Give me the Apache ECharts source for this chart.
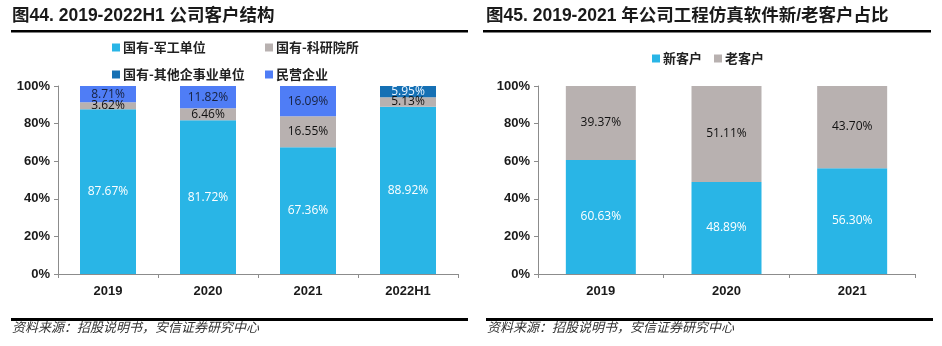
<!DOCTYPE html>
<html>
<head>
<meta charset="utf-8">
<script src="https://cdn.jsdelivr.net/npm/echarts@6/dist/echarts.min.js"></script>
<style>
  html, body { margin: 0; padding: 0; background: #fff; }
  #chart { width: 942px; height: 346px; }
</style>
</head>
<body>
<div id="chart"></div>
<script>
// Left panel: customer structure by ownership type (% of customers)
const structYears = ['2019', '2020', '2021', '2022H1'];
const militaryUnits = [87.67, 81.72, 67.36, 88.92];
const researchInstitutes = [3.62, 6.46, 16.55, 5.13];
const otherStateUnits = [0, 0, 0, 5.95];
const privateFirms = [8.71, 11.82, 16.09, 0];

// Right panel: new vs. returning customers of the simulation software
const clientYears = ['2019', '2020', '2021'];
const newClients = [60.63, 48.89, 56.30];
const oldClients = [39.37, 51.11, 43.70];

const percentTicks = ['0%', '20%', '40%', '60%', '80%', '100%'];

const C_SKY = '#29B5E6';
const C_GREY = '#B8B1B0';
const C_NAVY = '#1570B4';
const C_ROYAL = '#4F7DF6';

const CJK = '"Noto Sans CJK SC", "Noto Sans", sans-serif';
const NUM = '"Open Sans", "Noto Sans", sans-serif';
const AXISF = '"Liberation Sans", Arial, sans-serif';

const chart = echarts.init(document.getElementById('chart'), null, { renderer: 'canvas' });

function pctLabel(color) {
  return {
    show: true,
    position: 'inside',
    color: color,
    fontFamily: NUM,
    fontSize: 12,
    formatter: p => (p.value ? p.value.toFixed(2) + '%' : '')
  };
}

function yAxisCfg(gridIndex) {
  return {
    type: 'value', gridIndex, min: 0, max: 100, interval: 20,
    axisLine: { show: true, lineStyle: { color: '#8c8c8c', width: 1 } },
    axisTick: { show: true, length: 4, lineStyle: { color: '#8c8c8c' } },
    splitLine: { show: false },
    axisLabel: {
      margin: 8, color: '#1a1a1a', fontFamily: AXISF, fontWeight: 'bold', fontSize: 13,
      formatter: v => percentTicks[v / 20]
    }
  };
}

function xAxisCfg(gridIndex, cats) {
  return {
    type: 'category', gridIndex, data: cats,
    axisLine: { show: true, lineStyle: { color: '#8c8c8c', width: 1 } },
    axisTick: { show: true, length: 4, lineStyle: { color: '#8c8c8c' } },
    axisLabel: { margin: 11, color: '#1a1a1a', fontFamily: AXISF, fontWeight: 'bold', fontSize: 13 }
  };
}

function legendItem(name, left, top) {
  return {
    data: [name], left, top, orient: 'horizontal',
    icon: 'rect', itemWidth: 8, itemHeight: 8, itemGap: 4, padding: 0,
    selectedMode: false,
    textStyle: { fontFamily: CJK, fontWeight: 'bold', fontSize: 13, color: '#222', padding: [0, 0, 0, -2] }
  };
}

const rule = (x, y, w, h) => ({ type: 'rect', left: x, top: y, shape: { width: w, height: h }, style: { fill: '#000' } });
const text = (x, y, s, style) => ({ type: 'text', left: x, top: y, style: Object.assign({ text: s }, style) });

const titleStyle = { font: 'bold 17.5px "Liberation Sans", "Noto Sans CJK SC", sans-serif', fill: '#1a1a1a' };
const srcStyle = { font: 'italic 13px ' + CJK, fill: '#333' };

chart.setOption({
  animation: false,
  backgroundColor: '#fff',
  grid: [
    { left: 58, right: 484, top: 86, bottom: 72 },
    { left: 538, right: 27, top: 86, bottom: 72 }
  ],
  legend: [
    legendItem('国有-军工单位', 112, 41),
    legendItem('国有-科研院所', 265, 41),
    legendItem('国有-其他企事业单位', 112, 68),
    legendItem('民营企业', 265, 68),
    {
      data: ['新客户', '老客户'], left: 652, top: 52,
      icon: 'rect', itemWidth: 8, itemHeight: 8, itemGap: 12, padding: 0,
      selectedMode: false,
      textStyle: { fontFamily: CJK, fontWeight: 'bold', fontSize: 13, color: '#222', padding: [0, 0, 0, -2] }
    }
  ],
  xAxis: [xAxisCfg(0, structYears), xAxisCfg(1, clientYears)],
  yAxis: [yAxisCfg(0), yAxisCfg(1)],
  series: [
    { name: '国有-军工单位', type: 'bar', stack: 'a', xAxisIndex: 0, yAxisIndex: 0, barWidth: 56,
      itemStyle: { color: C_SKY }, label: pctLabel('#fff'), data: militaryUnits },
    { name: '国有-科研院所', type: 'bar', stack: 'a', xAxisIndex: 0, yAxisIndex: 0, barWidth: 56,
      itemStyle: { color: C_GREY }, label: pctLabel('#111'), data: researchInstitutes },
    { name: '国有-其他企事业单位', type: 'bar', stack: 'a', xAxisIndex: 0, yAxisIndex: 0, barWidth: 56,
      itemStyle: { color: C_NAVY }, label: pctLabel('#eaf4ff'), data: otherStateUnits },
    { name: '民营企业', type: 'bar', stack: 'a', xAxisIndex: 0, yAxisIndex: 0, barWidth: 56,
      itemStyle: { color: C_ROYAL }, label: pctLabel('#17213d'), data: privateFirms },
    { name: '新客户', type: 'bar', stack: 'b', xAxisIndex: 1, yAxisIndex: 1, barWidth: 70,
      itemStyle: { color: C_SKY }, label: pctLabel('#fff'), data: newClients },
    { name: '老客户', type: 'bar', stack: 'b', xAxisIndex: 1, yAxisIndex: 1, barWidth: 70,
      itemStyle: { color: C_GREY }, label: pctLabel('#111'), data: oldClients }
  ],
  graphic: [
    text(12, 7, '图44. 2019-2022H1 公司客户结构', titleStyle),
    rule(11, 30, 457, 2.5),
    text(486, 7, '图45. 2019-2021 年公司工程仿真软件新/老客户占比', titleStyle),
    rule(483, 30, 448, 2.5),
    rule(11, 318, 457, 3),
    rule(486, 318, 447, 3),
    text(12, 321, '资料来源：招股说明书，安信证券研究中心', srcStyle),
    text(487, 321, '资料来源：招股说明书，安信证券研究中心', srcStyle)
  ]
});
</script>
</body>
</html>
